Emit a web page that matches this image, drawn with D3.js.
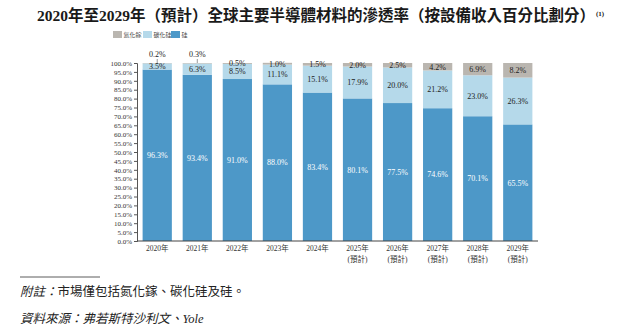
<!DOCTYPE html>
<html>
<head>
<meta charset="utf-8">
<script src="https://cdn.jsdelivr.net/npm/d3@7"></script>
<style>
  body { margin: 0; background: #fff; }
  text { font-family: "Liberation Serif", "Noto Sans CJK TC", serif; }
</style>
</head>
<body>
<div id="chart"></div>
<script>
// Data (share of equipment revenue, %)
const years = ["2020年", "2021年", "2022年", "2023年", "2024年", "2025年", "2026年", "2027年", "2028年", "2029年"];
const forecast = [false, false, false, false, false, true, true, true, true, true];
const silicon = [96.3, 93.4, 91.0, 88.0, 83.4, 80.1, 77.5, 74.6, 70.1, 65.5];
const siliconCarbide = [3.5, 6.3, 8.5, 11.1, 15.1, 17.9, 20.0, 21.2, 23.0, 26.3];
const galliumNitride = [0.2, 0.3, 0.5, 1.0, 1.5, 2.0, 2.5, 4.2, 6.9, 8.2];
const yTicks = d3.range(0, 101, 5);
const seriesNames = ["氮化鎵", "碳化硅", "硅"];

const width = 640, height = 331;
const colors = { si: "#4d98c8", sic: "#b5d9ea", gan: "#bab6b0" };

const svg = d3.select("#chart")
  .append("svg")
  .attr("width", width)
  .attr("height", height);

// Title
const title = svg.append("text")
  .attr("x", 37)
  .attr("y", 21)
  .attr("font-size", 15.5)
  .attr("font-weight", "bold")
  .attr("fill", "#1a1a1a")
  .text("2020年至2029年（預計）全球主要半導體材料的滲透率（按設備收入百分比劃分）");
title.append("tspan")
  .attr("font-size", 7)
  .attr("dy", -5)
  .attr("dx", 1)
  .text("(1)");

// Scales
const x = d3.scaleBand()
  .domain(years)
  .range([137, 538])
  .paddingInner(0.27)
  .paddingOuter(0.14);

const y = d3.scaleLinear()
  .domain([0, 100])
  .range([241, 63]);

// Y axis
const yAxis = svg.append("g")
  .attr("transform", "translate(137,0)")
  .call(d3.axisLeft(y).tickValues(yTicks).tickSize(3).tickPadding(2)
    .tickFormat(d => d.toFixed(1) + "%"));
yAxis.selectAll("text").attr("font-size", 7).attr("fill", "#333");
yAxis.selectAll("line").attr("stroke", "#555");
yAxis.select(".domain").attr("stroke", "#555");

// Stacked bars
const rows = years.map((yr, i) => ({ year: yr, si: silicon[i], sic: siliconCarbide[i], gan: galliumNitride[i] }));
const stack = d3.stack().keys(["si", "sic", "gan"]);
const stacked = stack(rows);

svg.append("g")
  .selectAll("g")
  .data(stacked)
  .join("g")
  .attr("fill", d => colors[d.key])
  .selectAll("rect")
  .data(d => d)
  .join("rect")
  .attr("x", d => x(d.data.year))
  .attr("width", x.bandwidth())
  .attr("y", d => y(d[1]))
  .attr("height", d => y(d[0]) - y(d[1]));

// X axis
const xAxis = svg.append("g")
  .attr("transform", "translate(0,241)")
  .call(d3.axisBottom(x).tickSize(0).tickPadding(5));
xAxis.select(".domain").attr("stroke", "#444").attr("d", "M137,0H538");
xAxis.selectAll("text").attr("font-size", 7.5).attr("fill", "#333");
xAxis.selectAll(".tick")
  .filter((d, i) => forecast[i])
  .append("text")
  .attr("y", 16)
  .attr("dy", "0.71em")
  .attr("fill", "#333")
  .attr("font-size", 7.5)
  .text("(預計)");

// Value labels
const labels = svg.append("g").attr("font-size", 8).attr("text-anchor", "middle");
stacked.forEach(layer => {
  layer.forEach((d, i) => {
    const cx = x(d.data.year) + x.bandwidth() / 2;
    const v = d[1] - d[0];
    if (layer.key === "gan" && i < 2) {
      // tiny values labelled above the bar with a leader line
      labels.append("text")
        .attr("x", cx).attr("y", y(100) - 6)
        .attr("fill", "#222")
        .text(v.toFixed(1) + "%");
      labels.append("line")
        .attr("x1", cx).attr("x2", cx)
        .attr("y1", y(100) - 4).attr("y2", y(d[1]))
        .attr("stroke", "#555").attr("stroke-width", 0.6);
      return;
    }
    labels.append("text")
      .attr("x", cx)
      .attr("y", y((d[0] + d[1]) / 2))
      .attr("dy", "0.35em")
      .attr("fill", layer.key === "si" ? "#fff" : "#222")
      .text(v.toFixed(1) + "%");
  });
});

// Legend
const legend = svg.append("g").attr("transform", "translate(113,31)");
const legendKeys = ["gan", "sic", "si"];
const legendX = [0, 30, 58];
legendKeys.forEach((k, i) => {
  const g = legend.append("g").attr("transform", "translate(" + legendX[i] + ",0)");
  g.append("rect").attr("width", 9).attr("height", 7).attr("fill", colors[k]);
  g.append("text").attr("x", 10.5).attr("y", 6.2).attr("font-size", 6).attr("fill", "#444").text(seriesNames[i]);
});

// Footnotes
svg.append("line")
  .attr("x1", 20).attr("x2", 100)
  .attr("y1", 277).attr("y2", 277)
  .attr("stroke", "#333").attr("stroke-width", 0.8);

const note = svg.append("text")
  .attr("x", 20).attr("y", 296)
  .attr("font-size", 12.5)
  .attr("fill", "#222");
note.append("tspan").attr("font-style", "italic").text("附註：");
note.append("tspan").text("市場僅包括氮化鎵、碳化硅及硅。");

svg.append("text")
  .attr("x", 20).attr("y", 323)
  .attr("font-size", 12.5)
  .attr("font-style", "italic")
  .attr("fill", "#222")
  .text("資料來源：弗若斯特沙利文、Yole");
</script>
</body>
</html>
